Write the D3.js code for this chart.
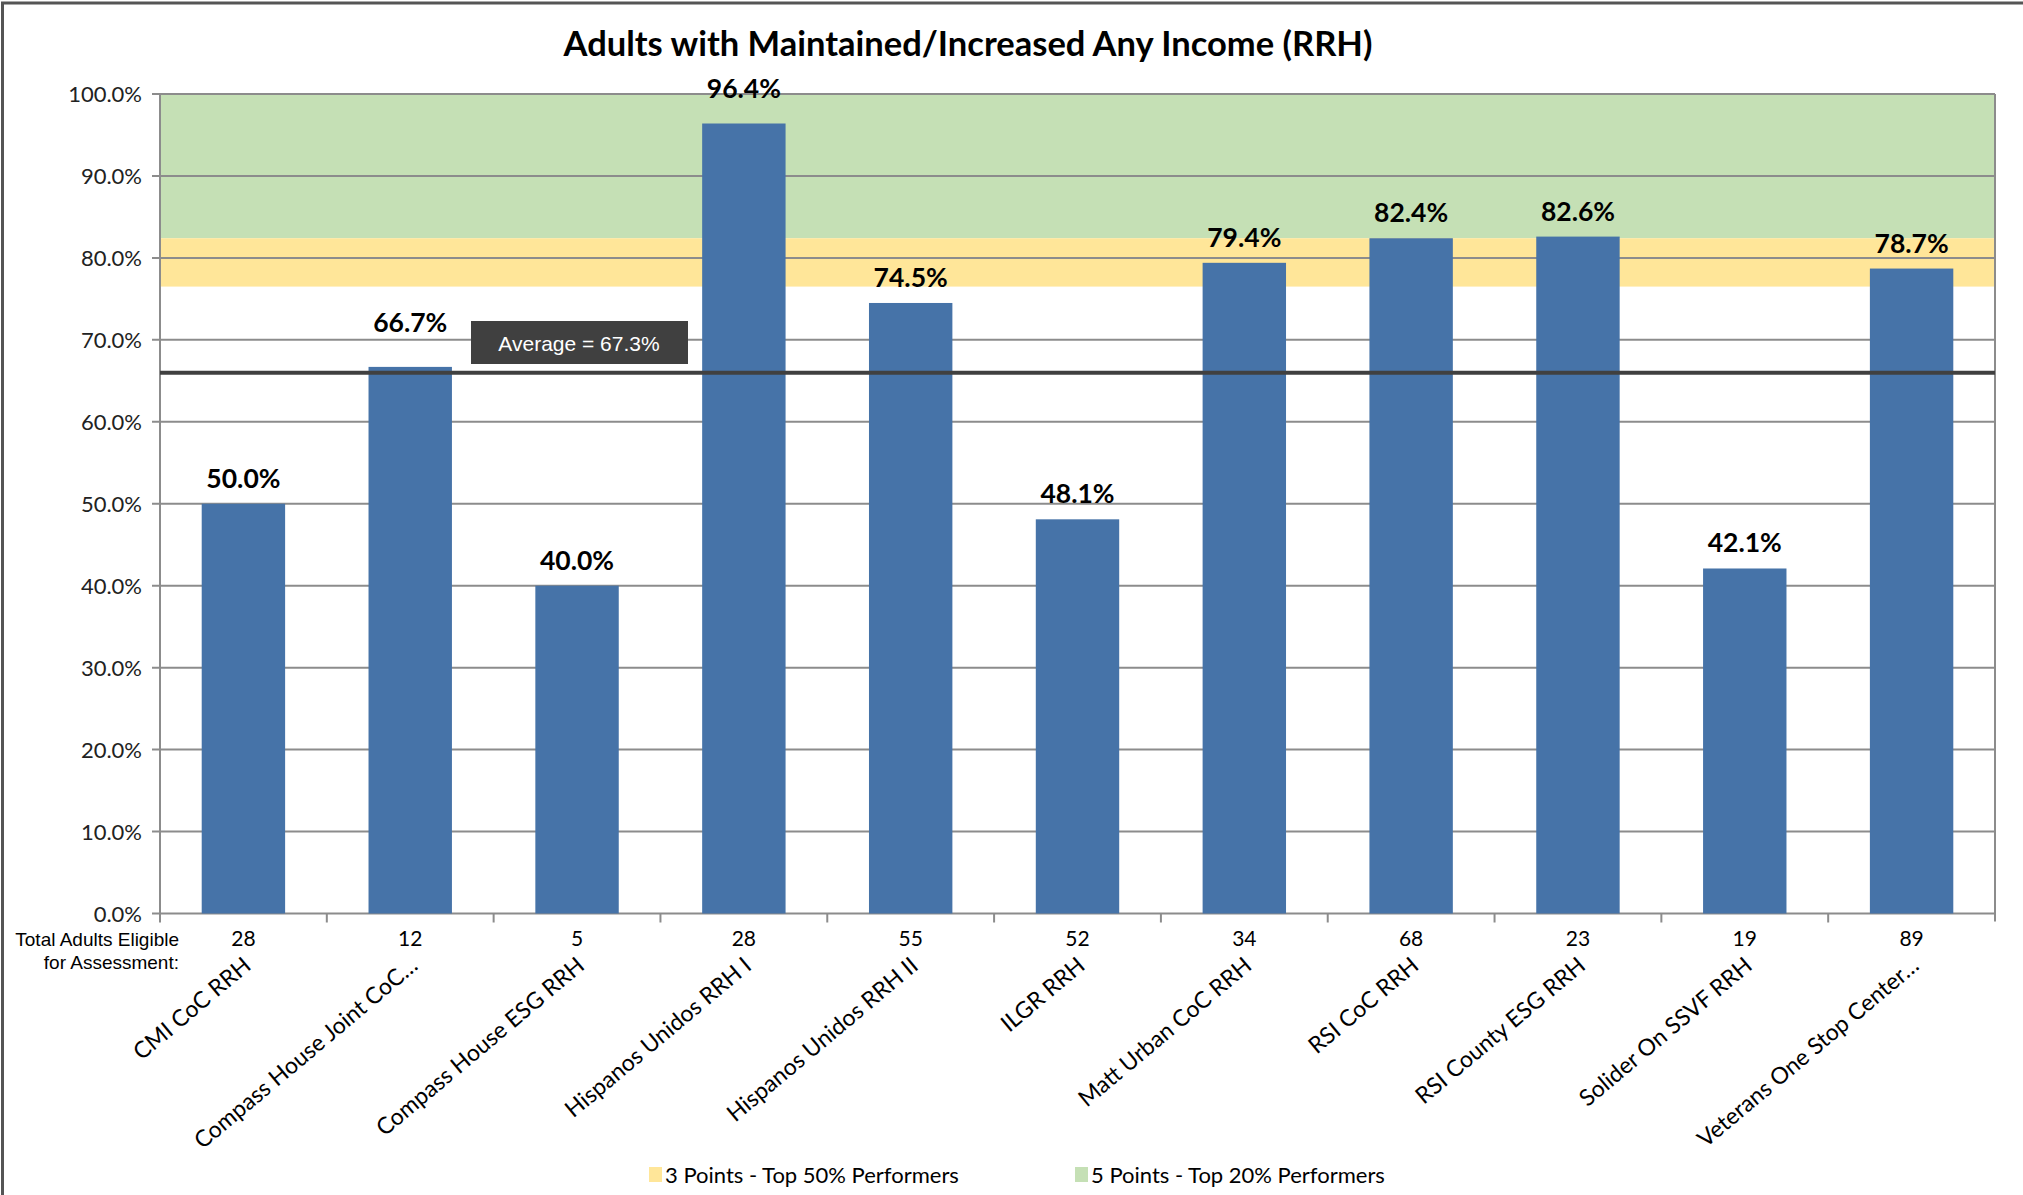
<!DOCTYPE html>
<html>
<head>
<meta charset="utf-8">
<script src="https://cdn.jsdelivr.net/npm/d3@7"></script>
<style>
  body { margin: 0; background: #fff; }
  svg { display: block; }
</style>
</head>
<body>
<div id="chart"></div>
<script>
// data
var categories = ["CMI CoC RRH", "Compass House Joint CoC\u2026", "Compass House ESG RRH",
                  "Hispanos Unidos RRH I", "Hispanos Unidos RRH II", "ILGR RRH",
                  "Matt Urban CoC RRH", "RSI CoC RRH", "RSI County ESG RRH",
                  "Solider On SSVF RRH", "Veterans One Stop Center\u2026"];
var values = [50.0, 66.7, 40.0, 96.4, 74.5, 48.1, 79.4, 82.4, 82.6, 42.1, 78.7];
var eligible = [28, 12, 5, 28, 55, 52, 34, 68, 23, 19, 89];
var y_ticks = [0, 10, 20, 30, 40, 50, 60, 70, 80, 90, 100];
var band_top50 = [76.5, 82.4];   // 3 points
var band_top20 = [82.4, 100];    // 5 points
var average_line = 66.0;
var average_text = "Average = 67.3%";
var legend_items = ["3 Points - Top 50% Performers", "5 Points - Top 20% Performers"];

// SVG properties
var chart_width = 2023;
var chart_height = 1195;
var plot_left = 160, plot_right = 1995, plot_top = 94, plot_bottom = 913.5;
var font_main = "Lato, 'DejaVu Sans', sans-serif";
var font_small = "'Liberation Sans', Arial, sans-serif";
var bar_color = "#4673a8";
var green = "#c5e0b5", yellow = "#ffe699", grid_color = "#8c8c8c";
var label_lift = {1: 19, 3: 10}; // labels nudged up, as in the original

var svg = d3.select("#chart")
            .append('svg')
            .attr('width', chart_width)
            .attr('height', chart_height);

// outer frame
svg.append('rect')
    .attr('x', 2.5).attr('y', 3)
    .attr('width', chart_width + 10).attr('height', chart_height + 10)
    .attr('fill', 'none')
    .attr('stroke', '#555')
    .attr('stroke-width', 3);

var scale_x = d3.scaleBand()
            .domain(d3.range(categories.length))
            .range([plot_left, plot_right])
            .paddingInner(0.5)
            .paddingOuter(0.25);
var scale_slot = d3.scaleBand()
            .domain(d3.range(categories.length))
            .range([plot_left, plot_right]);
var scale_y = d3.scaleLinear()
            .domain([0, 100])
            .range([plot_bottom, plot_top]);

// title
svg.append('text')
    .text("Adults with Maintained/Increased Any Income (RRH)")
    .attr('x', 968).attr('y', 56)
    .attr('text-anchor', 'middle')
    .attr('font-family', font_main)
    .attr('font-weight', 'bold')
    .attr('font-size', 34.5)
    .attr('fill', '#000');

// performer bands
svg.append('rect')
    .attr('x', plot_left)
    .attr('y', scale_y(band_top20[1]))
    .attr('width', plot_right - plot_left)
    .attr('height', scale_y(band_top20[0]) - scale_y(band_top20[1]))
    .attr('fill', green);
svg.append('rect')
    .attr('x', plot_left)
    .attr('y', scale_y(band_top50[1]))
    .attr('width', plot_right - plot_left)
    .attr('height', scale_y(band_top50[0]) - scale_y(band_top50[1]))
    .attr('fill', yellow);

// gridlines
svg.selectAll('line.grid')
    .data(y_ticks)
    .enter()
    .append('line')
    .attr('class', 'grid')
    .attr('x1', plot_left - 8)
    .attr('x2', plot_right)
    .attr('y1', function(d){ return scale_y(d); })
    .attr('y2', function(d){ return scale_y(d); })
    .attr('stroke', grid_color)
    .attr('stroke-width', 2);

// y axis labels
svg.selectAll('text.ytick')
    .data(y_ticks)
    .enter()
    .append('text')
    .attr('class', 'ytick')
    .text(function(d){ return d.toFixed(1) + "%"; })
    .attr('x', plot_left - 18)
    .attr('y', function(d){ return scale_y(d) + 8; })
    .attr('text-anchor', 'end')
    .attr('font-family', font_main)
    .attr('font-size', 22)
    .attr('fill', '#222');

// axis lines
svg.append('line')
    .attr('x1', plot_left).attr('x2', plot_left)
    .attr('y1', plot_top).attr('y2', plot_bottom)
    .attr('stroke', grid_color).attr('stroke-width', 2);
svg.append('line')
    .attr('x1', plot_right).attr('x2', plot_right)
    .attr('y1', plot_top).attr('y2', plot_bottom + 8)
    .attr('stroke', grid_color).attr('stroke-width', 2);

// x ticks at slot edges
svg.selectAll('line.xtick')
    .data(d3.range(categories.length))
    .enter()
    .append('line')
    .attr('class', 'xtick')
    .attr('x1', function(d){ return scale_slot(d); })
    .attr('x2', function(d){ return scale_slot(d); })
    .attr('y1', plot_bottom)
    .attr('y2', plot_bottom + 9)
    .attr('stroke', grid_color)
    .attr('stroke-width', 2);

// bars
svg.selectAll('rect.bar')
    .data(values)
    .enter()
    .append('rect')
    .attr('class', 'bar')
    .attr('x', function(d, i){ return scale_x(i); })
    .attr('y', function(d){ return scale_y(d); })
    .attr('width', scale_x.bandwidth())
    .attr('height', function(d){ return plot_bottom - scale_y(d); })
    .attr('fill', bar_color);

// bar value labels
svg.selectAll('text.val')
    .data(values)
    .enter()
    .append('text')
    .attr('class', 'val')
    .text(function(d){ return d.toFixed(1) + "%"; })
    .attr('x', function(d, i){ return scale_x(i) + scale_x.bandwidth() / 2; })
    .attr('y', function(d, i){ return scale_y(d) - 16 - (label_lift[i] || 0); })
    .attr('text-anchor', 'middle')
    .attr('font-family', font_main)
    .attr('font-weight', 'bold')
    .attr('font-size', 26.5)
    .attr('fill', '#000');

// average line + label
svg.append('line')
    .attr('x1', plot_left).attr('x2', plot_right)
    .attr('y1', scale_y(average_line)).attr('y2', scale_y(average_line))
    .attr('stroke', '#404040')
    .attr('stroke-width', 4);
svg.append('rect')
    .attr('x', 471).attr('y', 321)
    .attr('width', 217).attr('height', 43)
    .attr('fill', '#404040');
svg.append('text')
    .text(average_text)
    .attr('x', 579).attr('y', 351)
    .attr('text-anchor', 'middle')
    .attr('font-family', font_small)
    .attr('font-size', 21)
    .attr('fill', '#fff');

// eligible counts row
svg.append('text')
    .attr('x', 179).attr('y', 946)
    .attr('text-anchor', 'end')
    .attr('font-family', font_small)
    .attr('font-size', 19)
    .attr('fill', '#000')
    .selectAll('tspan')
    .data(["Total Adults Eligible", "for Assessment:"])
    .enter()
    .append('tspan')
    .attr('x', 179)
    .attr('dy', function(d, i){ return i === 0 ? 0 : 23; })
    .text(function(d){ return d; });

svg.selectAll('text.count')
    .data(eligible)
    .enter()
    .append('text')
    .attr('class', 'count')
    .text(function(d){ return d; })
    .attr('x', function(d, i){ return scale_x(i) + scale_x.bandwidth() / 2; })
    .attr('y', 946)
    .attr('text-anchor', 'middle')
    .attr('font-family', font_main)
    .attr('font-size', 21)
    .attr('fill', '#000');

// category labels, rotated
svg.selectAll('text.cat')
    .data(categories)
    .enter()
    .append('text')
    .attr('class', 'cat')
    .text(function(d){ return d; })
    .attr('transform', function(d, i){
        var cx = scale_x(i) + scale_x.bandwidth() / 2 + 9;
        return "translate(" + cx + ",968) rotate(-40)";
    })
    .attr('text-anchor', 'end')
    .attr('font-family', font_main)
    .attr('font-size', 23)
    .attr('fill', '#000');

// legend
var legend_colors = [yellow, green];
var legend_x = [649, 1075];
var legend = svg.selectAll('g.legend')
    .data(legend_items)
    .enter()
    .append('g')
    .attr('class', 'legend')
    .attr('transform', function(d, i){ return "translate(" + legend_x[i] + ",1167)"; });
legend.append('rect')
    .attr('width', 13).attr('height', 15)
    .attr('fill', function(d, i){ return legend_colors[i]; });
legend.append('text')
    .text(function(d){ return d; })
    .attr('x', 16).attr('y', 16)
    .attr('font-family', font_main)
    .attr('font-size', 22)
    .attr('fill', '#000');
</script>
</body>
</html>
